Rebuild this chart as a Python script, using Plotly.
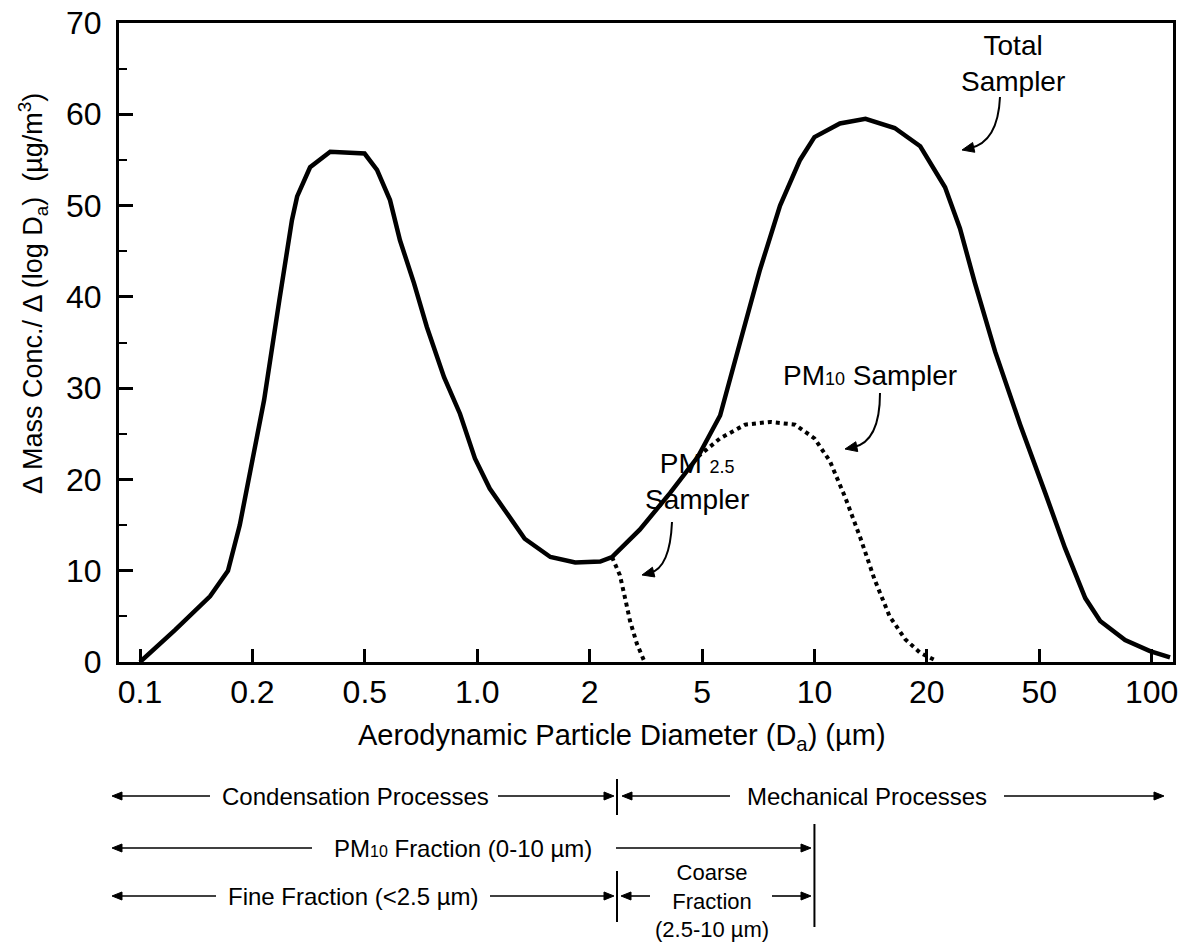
import numpy as np
import plotly.graph_objects as go

# ---------------- data ----------------
tick_values = [0.1, 0.2, 0.5, 1.0, 2, 5, 10, 20, 50, 100]
tick_labels = ["0.1", "0.2", "0.5", "1.0", "2", "5", "10", "20", "50", "100"]
y_ticks = [0, 10, 20, 30, 40, 50, 60, 70]

# Total sampler (diameter in um, concentration)
total_d = [0.1, 0.124, 0.154, 0.172, 0.185, 0.201, 0.220, 0.249, 0.276, 0.288,
           0.320, 0.377, 0.499, 0.539, 0.584, 0.621, 0.677, 0.733, 0.815, 0.899,
           0.986, 1.08, 1.19, 1.34, 1.57, 1.83, 2.18, 2.40, 3.01, 3.85, 4.84,
           5.59, 6.32, 7.15, 8.09, 9.15, 10.0, 11.7, 13.7, 16.4, 19.2, 23.2,
           26.2, 29.6, 34.9, 42.8, 51.9, 58.6, 66.4, 72.8, 84.9, 99.0, 112]
total_v = [0, 3.5, 7.2, 10, 15, 22.5, 28.7, 39.6, 48.4, 51.0,
           54.2, 55.9, 55.7, 53.9, 50.6, 46.2, 41.5, 36.7, 31.2, 27.2,
           22.3, 19.0, 16.5, 13.5, 11.5, 10.9, 11.0, 11.5, 14.5, 18.5, 22.5,
           27.0, 35.0, 43.0, 50.0, 55.0, 57.5, 59.0, 59.5, 58.5, 56.5, 52.0,
           47.5, 41.5, 34.0, 26.0, 18.5, 12.5, 7.0, 4.5, 2.4, 1.2, 0.5]

# PM10 sampler
pm10_d = [4.84, 5.59, 6.52, 7.61, 8.87, 10.0, 11.0, 12.1, 13.3, 14.5, 15.9, 17.5, 19.2, 21.4]
pm10_v = [22.5, 24.5, 26.0, 26.3, 26.0, 24.5, 22.0, 18.0, 13.5, 9.0, 5.0, 2.5, 1.0, 0.2]

# PM2.5 sampler
pm25_d = [2.40, 2.56, 2.67, 2.78, 2.94, 3.13]
pm25_v = [11.5, 9.5, 7.0, 4.5, 2.0, 0.0]

# ---------------- scale: evenly spaced 1-2-5 ticks ----------------
_scale_log = np.log10(tick_values + [200])
_scale_pos = np.arange(len(tick_values) + 1)


def pos(d):
    return np.interp(np.log10(np.asarray(d, dtype=float)), _scale_log, _scale_pos)


FONT = "Liberation Sans, Arial, Helvetica, sans-serif"
X_RANGE = [-0.187, 9.19]
Y_RANGE = [0, 70]
PAGE_W, PAGE_H = 1181, 944
L, R, T, B = 119, 1173, 23, 662  # plot box, in page pixels


def px_x(px):
    return X_RANGE[0] + (px - L) / (R - L) * (X_RANGE[1] - X_RANGE[0])


def px_y(py):
    return Y_RANGE[1] - (py - T) / (B - T) * (Y_RANGE[1] - Y_RANGE[0])


def paper_x(px):
    return (px - L) / (R - L)


def paper_y(py):
    return (B - py) / (B - T)


fig = go.Figure()
fig.add_trace(go.Scatter(x=pos(total_d), y=total_v, mode="lines", name="Total Sampler",
                         line=dict(color="black", width=4.5)))
fig.add_trace(go.Scatter(x=pos(pm10_d), y=pm10_v, mode="lines", name="PM10 Sampler",
                         line=dict(color="black", width=4, dash="dot")))
fig.add_trace(go.Scatter(x=pos(pm25_d), y=pm25_v, mode="lines", name="PM2.5 Sampler",
                         line=dict(color="black", width=4, dash="dot")))

annotations = []
shapes = []


def conv(ref):
    if ref == "paper":
        return paper_x, paper_y, "paper", "paper"
    return px_x, px_y, "x", "y"


def head(tip, ux, uy, ref, hl=11.0, hw=4.5):
    """Filled triangular arrow head; (ux, uy) is the unit direction of travel in pixels."""
    cx, cy, xr, yr = conv(ref)
    tx, ty = tip
    bx, by = tx - ux * hl, ty - uy * hl
    pts = [(tx, ty), (bx - uy * hw, by + ux * hw), (bx + uy * hw, by - ux * hw)]
    path = "M " + " L ".join("%f,%f" % (cx(a), cy(b)) for a, b in pts) + " Z"
    shapes.append(dict(type="path", xref=xr, yref=yr, path=path,
                       fillcolor="black", line=dict(color="black", width=1)))
    return bx, by


def straight_arrow(tail, tip, ref="paper", width=1.6):
    cx, cy, xr, yr = conv(ref)
    dx, dy = tip[0] - tail[0], tip[1] - tail[1]
    n = (dx * dx + dy * dy) ** 0.5
    bx, by = head(tip, dx / n, dy / n, ref, hl=10, hw=4)
    shapes.append(dict(type="line", xref=xr, yref=yr, x0=cx(tail[0]), y0=cy(tail[1]),
                       x1=cx(bx + dx / n * 2), y1=cy(by + dy / n * 2),
                       line=dict(color="black", width=width)))


# ---- axis titles ----
annotations.append(dict(x=paper_x(622), y=paper_y(737), xref="paper", yref="paper",
                        text="Aerodynamic Particle Diameter (D<sub>a</sub>) (µm)",
                        showarrow=False, font=dict(size=29), xanchor="center", yanchor="middle"))
annotations.append(dict(x=paper_x(33), y=paper_y(294), xref="paper", yref="paper",
                        text="Δ Mass Conc./ Δ (log D<sub>a</sub>)  (µg/m<sup>3</sup>)",
                        textangle=-90, showarrow=False, font=dict(size=27),
                        xanchor="center", yanchor="middle"))

# ---- in-plot labels ----
small = "<span style='font-size:18px'>%s</span>"
annotations.append(dict(x=px_x(1013), y=px_y(63), xref="x", yref="y", showarrow=False,
                        text="Total<br>Sampler", font=dict(size=28)))
annotations.append(dict(x=px_x(870), y=px_y(375), xref="x", yref="y", showarrow=False,
                        text="PM" + small % "10" + " Sampler", font=dict(size=28)))
annotations.append(dict(x=px_x(697), y=px_y(481), xref="x", yref="y", showarrow=False,
                        text="PM " + small % "2.5" + "<br>Sampler", font=dict(size=28)))

# ---- curved pointer arrows (start, control, tip in page pixels) ----
pointers = [((1000, 97), (998, 142), (962, 150)),
            ((880, 393), (880, 442), (845, 449)),
            ((672, 522), (670, 568), (642, 575))]
for (sx, sy), (cx_, cy_), (tx, ty) in pointers:
    dx, dy = tx - cx_, ty - cy_
    n = (dx * dx + dy * dy) ** 0.5
    ex, ey = tx - dx / n * 8, ty - dy / n * 8
    shapes.append(dict(type="path", xref="x", yref="y",
                       path="M %f,%f Q %f,%f %f,%f" % (px_x(sx), px_y(sy), px_x(cx_), px_y(cy_),
                                                       px_x(ex), px_y(ey)),
                       line=dict(color="black", width=2)))
    head((tx, ty), dx / n, dy / n, "data", hl=12, hw=5)


# ---- process / fraction ranges under the axis ----
def span_text(text, cx_px, py, size=24):
    annotations.append(dict(x=paper_x(cx_px), y=paper_y(py), xref="paper", yref="paper",
                            text=text, showarrow=False, font=dict(size=size),
                            xanchor="center", yanchor="middle"))


small_b = "<span style='font-size:16px'>%s</span>"
# Condensation / Mechanical
span_text("Condensation Processes", 355, 796)
straight_arrow((210, 796), (112, 796))
straight_arrow((498, 796), (614, 796))
span_text("Mechanical Processes", 867, 796)
straight_arrow((730, 796), (622, 796))
straight_arrow((1004, 796), (1164, 796))
# PM10 fraction
span_text("PM" + small_b % "10" + " Fraction (0-10 µm)", 463, 848)
straight_arrow((312, 848), (112, 848))
straight_arrow((616, 848), (811, 848))
# Fine / Coarse
span_text("Fine Fraction (<2.5 µm)", 353, 896)
straight_arrow((216, 896), (112, 896))
straight_arrow((490, 896), (614, 896))
straight_arrow((650, 896), (621, 896))
straight_arrow((772, 896), (811, 896))
span_text("Coarse<br>Fraction<br>(2.5-10 µm)", 712, 901, size=22)

# dividers at 2.5 um and 10 um
x25 = float(pos(2.5))
x10 = float(pos(10))
for xd, y0, y1 in [(x25, 779, 815), (x25, 871, 922), (x10, 824, 927)]:
    shapes.append(dict(type="line", xref="x", yref="paper", x0=xd, x1=xd,
                       y0=paper_y(y0), y1=paper_y(y1), line=dict(color="black", width=2)))

fig.update_layout(
    width=PAGE_W, height=PAGE_H,
    margin=dict(l=L, r=PAGE_W - R, t=T, b=PAGE_H - B, autoexpand=False),
    paper_bgcolor="white", plot_bgcolor="white",
    font=dict(family=FONT, color="black"),
    showlegend=False,
    annotations=annotations, shapes=shapes,
)
fig.update_xaxes(
    range=X_RANGE, tickmode="array", tickvals=list(range(len(tick_values))), ticktext=tick_labels,
    ticks="inside", ticklen=13, tickwidth=2.5, tickcolor="black",
    showline=True, linewidth=3, linecolor="black", mirror=True,
    showgrid=False, zeroline=False, tickfont=dict(size=32), ticklabelstandoff=0,
    ticklabeloverflow="allow", automargin=False,
)
fig.update_yaxes(
    range=Y_RANGE, tickmode="array", tickvals=y_ticks,
    ticks="inside", ticklen=14, tickwidth=2.5, tickcolor="black",
    minor=dict(dtick=5, tick0=0, ticks="inside", ticklen=8, tickwidth=2, tickcolor="black"),
    showline=True, linewidth=3, linecolor="black", mirror=True,
    showgrid=False, zeroline=False, tickfont=dict(size=32), ticklabelstandoff=8,
    ticklabeloverflow="allow", automargin=False,
)

fig.write_html(
    "out.html",
    config={"displayModeBar": False},
    post_script="document.body.style.margin='0';document.body.style.overflow='hidden';",
)
